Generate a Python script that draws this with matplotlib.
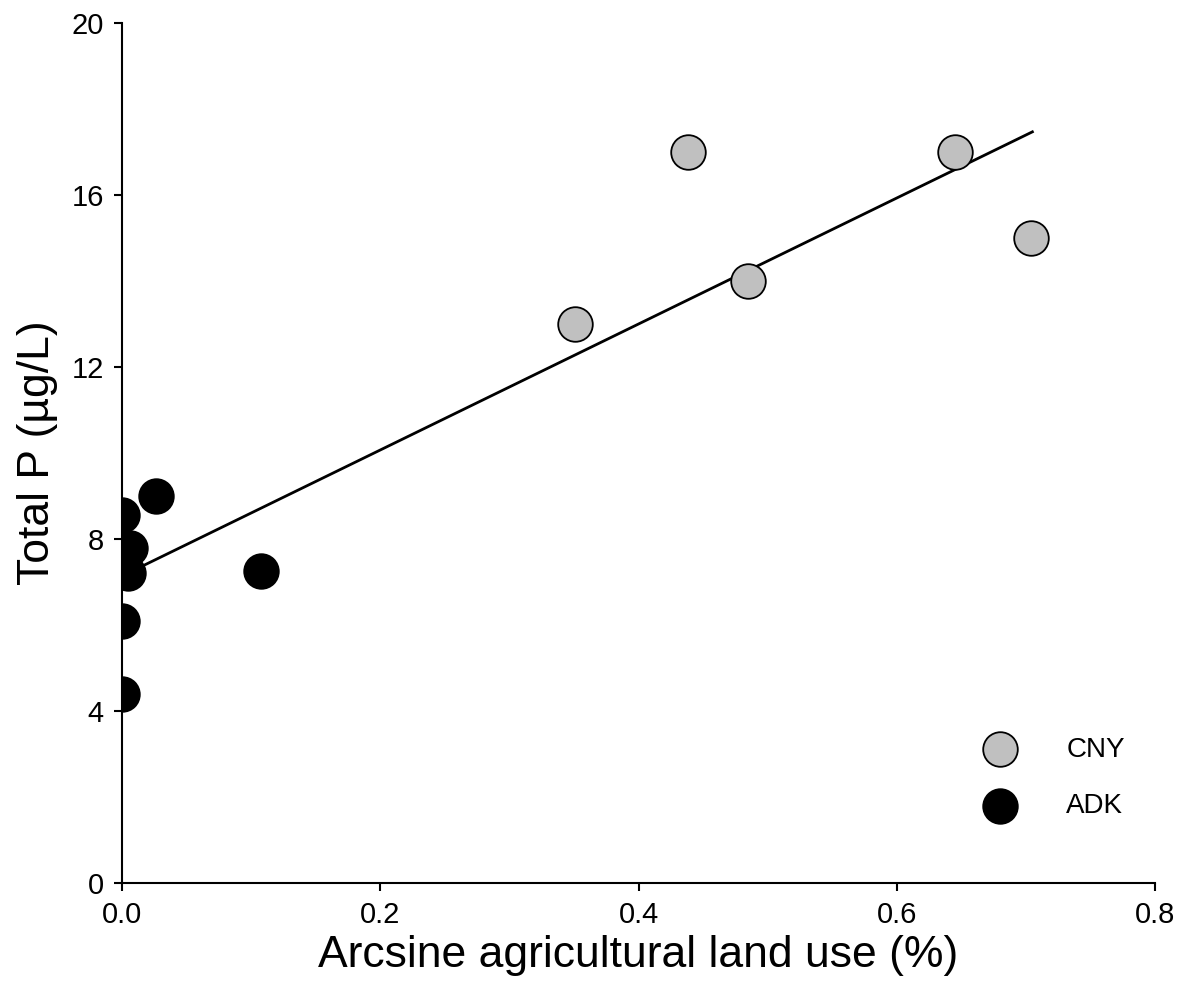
import numpy as np
import matplotlib.pyplot as plt

plt.rcParams['font.family'] = ['Liberation Sans', 'DejaVu Sans']

# CNY lakes
cny_x = [0.351, 0.438, 0.485, 0.645, 0.704]
cny_y = [13.0, 17.0, 14.0, 17.0, 15.0]

# ADK lakes
adk_x = [0.0, 0.006, 0.005, 0.026, 0.108, 0.0, 0.0]
adk_y = [8.55, 7.8, 7.2, 9.0, 7.25, 6.1, 4.4]

# regression line
fit_x = [0.0, 0.705]
fit_slope = 14.65
fit_icpt = 7.14

fig = plt.figure(figsize=(11.86, 9.99), dpi=100)
ax = fig.add_axes([0.1029, 0.1161, 0.871, 0.8609])

fx = np.array(fit_x)
ax.plot(fx, fit_icpt + fit_slope * fx, color='black', lw=2, zorder=2)

ax.scatter(cny_x, cny_y, s=620, c='#c0c0c0', edgecolors='black', linewidths=1.3, zorder=3, label='CNY')
ax.scatter(adk_x, adk_y, s=620, c='black', edgecolors='black', linewidths=1.3, zorder=3, label='ADK')

ax.set_xlim(0, 0.8)
ax.set_ylim(0, 20)
ax.set_xticks([0.0, 0.2, 0.4, 0.6, 0.8])
ax.set_xticklabels(['0.0', '0.2', '0.4', '0.6', '0.8'])
ax.set_yticks([0, 4, 8, 12, 16, 20])
ax.spines['top'].set_visible(False)
ax.spines['right'].set_visible(False)
for s in ['left', 'bottom']:
    ax.spines[s].set_linewidth(1.5)
ax.tick_params(direction='out', length=6, width=1.5, labelsize=21, pad=7)

ax.set_xlabel('Arcsine agricultural land use (%)', fontsize=32, labelpad=4)
ax.set_ylabel('Total P (\u00b5g/L)', fontsize=32, labelpad=10)

ax.legend(loc='lower right', bbox_to_anchor=(0.995, 0.045), frameon=False, fontsize=20,
          markerscale=1.0, handlelength=2.0, handletextpad=1.4, labelspacing=1.1)

fig.savefig('out.png', dpi=100)
